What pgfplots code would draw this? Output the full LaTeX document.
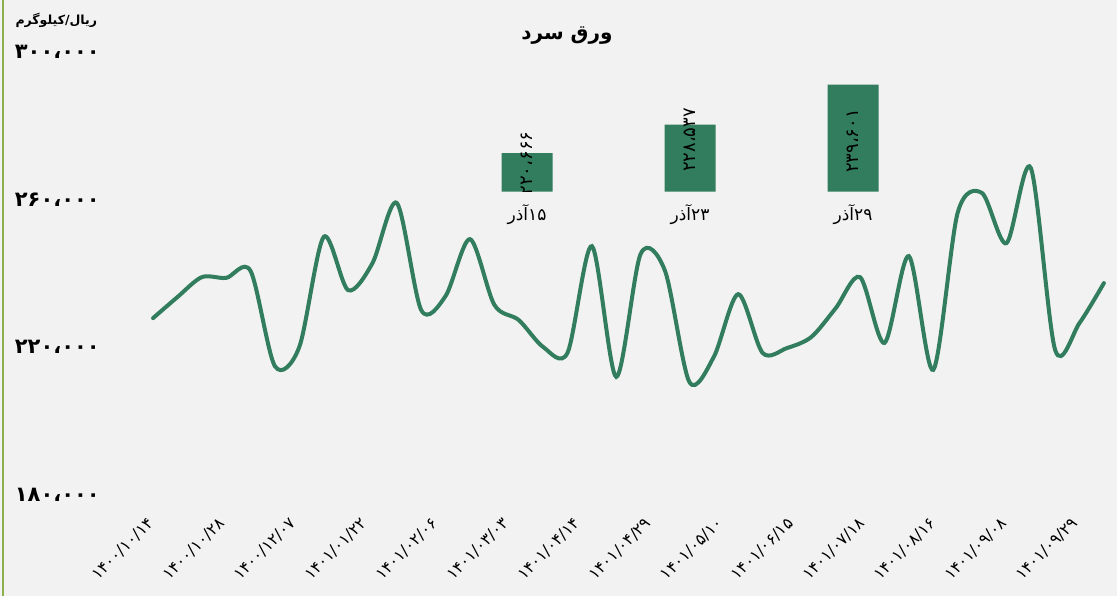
\documentclass[border=0pt]{standalone}
\usepackage{fontspec}
\usepackage{pgfplots}
\pgfplotsset{compat=1.18}
\TeXXeTstate=1
\newfontfamily\arabicfont[Script=Arabic]{DejaVu Sans}
\definecolor{bg}{HTML}{F2F2F2}
\definecolor{lg}{HTML}{317D5E}
\definecolor{olivebar}{HTML}{8DB04E}

\pgfplotstableread{
i v
0 227900
1 233600
2 239000
3 238800
4 240700
5 214900
6 220100
7 249900
8 235500
9 242800
10 259100
11 230100
12 233900
13 249300
14 231500
15 227400
16 220100
17 218500
18 247400
19 212000
20 245300
21 240700
22 210600
23 217400
24 234400
25 218500
26 219800
27 222800
28 230600
29 239000
30 221200
31 244700
32 213900
33 256400
34 261800
35 248200
36 268600
37 219300
38 226600
39 237400
}\pricetable

\begin{document}
\begin{tikzpicture}[x=1pt,y=1pt]
\fill[bg] (0,0) rectangle (1117,596);
\useasboundingbox (0,0) rectangle (1117,596);
\draw[olivebar, line width=2pt] (3,0) -- (3,596);

\node[font=\arabicfont\bfseries\fontsize{20}{24}\selectfont] at (567,560) {\beginR ورق سرد\endR};
\node[font=\arabicfont\bfseries\fontsize{12.5}{14}\selectfont, anchor=west] at (12,576) {\beginR ریال/کیلوگرم\endR};

\begin{axis}[
  at={(108pt,101pt)}, anchor=south west,
  scale only axis, width=1002pt, height=443pt,
  xmin=-1.846, xmax=39.25, ymin=180000, ymax=300000,
  axis line style={draw=none}, tick style={draw=none},
  scaled y ticks=false,
  ytick={180000,220000,260000,300000},
  yticklabels={۱۸۰،۰۰۰,۲۲۰،۰۰۰,۲۶۰،۰۰۰,۳۰۰،۰۰۰},
  yticklabel style={font=\arabicfont\bfseries\fontsize{21}{24}\selectfont, anchor=east, inner sep=0pt, xshift=-8pt},
  xtick={-0.12,2.79,5.71,8.63,11.54,14.46,17.37,20.29,23.21,26.12,29.04,31.95,34.87,37.79},
  xticklabels={۱۴۰۰/۱۰/۱۴,۱۴۰۰/۱۰/۲۸,۱۴۰۰/۱۲/۰۷,۱۴۰۱/۰۱/۲۲,۱۴۰۱/۰۲/۰۶,۱۴۰۱/۰۳/۰۳,۱۴۰۱/۰۴/۱۴,۱۴۰۱/۰۴/۲۹,۱۴۰۱/۰۵/۱۰,۱۴۰۱/۰۶/۱۵,۱۴۰۱/۰۷/۱۸,۱۴۰۱/۰۸/۱۶,۱۴۰۱/۰۹/۰۸,۱۴۰۱/۰۹/۲۹},
  xticklabel style={font=\arabicfont\fontsize{16}{18}\selectfont, xshift=-4pt, yshift=-21pt, rotate=45, anchor=north east, inner sep=0pt},
  clip=false,
]
\addplot[lg, line width=4pt, smooth, tension=0.5, line cap=round] table[x=i, y=v] {\pricetable};
\end{axis}

\begin{axis}[
  at={(445.5pt,404.3pt)}, anchor=south west,
  scale only axis, width=489pt, height=108.6pt,
  xmin=-0.5, xmax=2.5, ymin=210000, ymax=240000,
  axis line style={draw=none}, tick style={draw=none},
  ytick=\empty,
  xtick={0,1,2},
  xticklabels={{\beginR ۱۵آذر\endR},{\beginR ۲۳آذر\endR},{\beginR ۲۹آذر\endR}},
  xticklabel style={font=\arabicfont\fontsize{17}{19}\selectfont, inner sep=0pt, anchor=north, yshift=-13pt},
]
\addplot[ybar, bar width=51pt, bar shift=0pt, fill=lg, draw=none] coordinates {(0,220666) (1,228537) (2,239601)};
\node[rotate=90, font=\arabicfont\fontsize{18}{20}\selectfont] at (axis cs:0,217800) {۲۲۰،۶۶۶};
\node[rotate=90, font=\arabicfont\fontsize{18}{20}\selectfont] at (axis cs:1,224280) {۲۲۸،۵۳۷};
\node[rotate=90, font=\arabicfont\fontsize{18}{20}\selectfont] at (axis cs:2,224000) {۲۳۹،۶۰۱};
\end{axis}
\end{tikzpicture}
\end{document}
